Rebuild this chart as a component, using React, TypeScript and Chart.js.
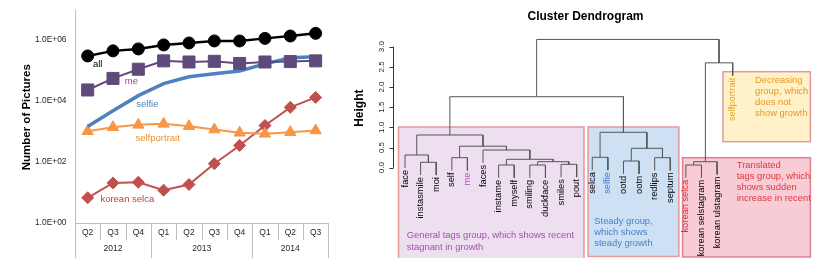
import React, { useEffect, useRef } from "react";
import { Chart, registerables } from "chart.js";

Chart.register(...registerables);

// ---------------- Left chart data ----------------
const quarterLabels = ["Q2", "Q3", "Q4", "Q1", "Q2", "Q3", "Q4", "Q1", "Q2", "Q3"];
const yearLabels = ["2012", "2013", "2014"];
const quartersPerYear = [3, 4, 3];
const seriesNames = ["all", "me", "selfie", "selfportrait", "korean selca"];
const allCounts = [3.0e5, 4.4e5, 5.1e5, 6.9e5, 8.0e5, 9.3e5, 9.3e5, 1.13e6, 1.35e6, 1.65e6];
const meCounts = [2.3e4, 5.5e4, 1.1e5, 2.07e5, 1.9e5, 2.0e5, 1.7e5, 1.9e5, 1.96e5, 2.07e5];
const selfieCounts = [1450, 4800, 1.5e4, 3.7e4, 6.2e4, 7.8e4, 9.7e4, 1.65e5, 2.6e5, 2.8e5];
const selfportraitCounts = [1020, 1380, 1650, 1780, 1490, 1160, 906, 840, 950, 1080];
const koreanSelcaCounts = [6.7, 20.6, 21.7, 11.9, 18.3, 88, 349, 1570, 6200, 13100];
const yTickValues = [1, 1e2, 1e4, 1e6];
const yTickLabels = ["1.0E+00", "1.0E+02", "1.0E+04", "1.0E+06"];
const yAxisTitle = "Number of Pictures";

// ---------------- Dendrogram data ----------------
const dendroTitle = "Cluster Dendrogram";
const dendroYTitle = "Height";
const leafLabels = [
  "face", "instasmile", "moi", "self", "me", "faces", "instame", "myself", "smiling",
  "duckface", "smiles", "pout", "selca", "selfie", "ootd", "ootn", "redlips", "septum",
  "korean selca", "korean selstagram", "korean ulstagram", "selfportrait",
];
// hclust-style merges: negative = leaf (1-based), positive = earlier merge (1-based)
const mergeLeft = [-2, -1, -4, -7, -9, -11, 5, 4, -6, 3, 2, -13, -15, -17, 13, 12, -19, 17, 11, 18, 19];
const mergeRight = [-3, 1, -5, -8, -10, -12, 6, 7, 8, 9, 10, -14, -16, -18, 14, 15, -20, -21, 16, -22, 20];
const mergeHeights = [0.134, 0.315, 0.248, 0.067, 0.067, 0.084, 0.149, 0.208, 0.439, 0.533, 0.811, 0.258, 0.166, 0.248, 0.481, 0.878, 0.067, 0.149, 1.76, 2.6, 3.18];
const heightTicks = [0, 0.5, 1, 1.5, 2, 2.5, 3];
const heightTickLabels = ["0.0", "0.5", "1.0", "1.5", "2.0", "2.5", "3.0"];
const groupTexts = [
  ["General tags group, which shows recent", "stagnant in growth"],
  ["Steady group,", "which shows", "steady growth"],
  ["Decreasing", "group, which", "does not", "show growth"],
  ["Translated", "tags group, which", "shows sudden", "increase in recent"],
];

// ---------------- styles ----------------
const FONT = '"Liberation Sans", Arial, Helvetica, sans-serif';
const seriesColors = ["#000000", "#604a7b", "#4f81bd", "#f79646", "#c0504d"];
const seriesLabelColors = ["#000000", "#a040a8", "#4a7ebb", "#e8902e", "#c8403d"];
const seriesLabelAnchors = [
  { index: 0, dx: 10, dy: 8 },
  { index: 2, dx: -7, dy: 12 },
  { index: 2, dx: 9, dy: 9 },
  { index: 3, dx: -6, dy: 15 },
  { index: 2, dx: -11, dy: 17 },
];
const leafColorMap: Record<string, string> = {
  me: "#b050b8",
  selfie: "#3f7fcf",
  "korean selca": "#e03030",
  selfportrait: "#e8a030",
};
// boxes in (leaf units, height units)
const groupBoxes = [
  { x0: 0.584, x1: 12.47, y0: 1.009, y1: -2.3, fill: "#eedff0", stroke: "#e29a9e", text: "#a150ad", tx: 1.11, ty: -1.686 },
  { x0: 12.73, x1: 18.55, y0: 1.009, y1: -2.2, fill: "#cde0f4", stroke: "#e29a9e", text: "#4a80c8", tx: 13.13, ty: -1.322 },
  { x0: 21.38, x1: 26.98, y0: 2.38, y1: 0.645, fill: "#fff2c8", stroke: "#e29a9e", text: "#e8961e", tx: 23.43, ty: 2.175 },
  { x0: 18.79, x1: 26.98, y0: 0.248, y1: -2.214, fill: "#f7ccd6", stroke: "#e0808c", text: "#e03838", tx: 22.26, ty: 0.067 },
];

function crisp(v: number) {
  return Math.round(v) + 0.5;
}

const leftPlugin = {
  id: "leftDecor",
  beforeDatasetsDraw(chart: any) {
    const { ctx, chartArea: a, scales } = chart;
    const x = scales.x;
    const y = scales.y;
    ctx.save();
    ctx.strokeStyle = "#bfbfbf";
    ctx.lineWidth = 1;
    ctx.beginPath();
    ctx.moveTo(crisp(a.left), a.top);
    ctx.lineTo(crisp(a.left), a.bottom);
    ctx.moveTo(a.left, crisp(a.bottom));
    ctx.lineTo(a.right, crisp(a.bottom));
    // separators
    const half = (x.getPixelForValue(1) - x.getPixelForValue(0)) / 2;
    const boundaries = new Set<number>();
    let acc = 0;
    boundaries.add(0);
    quartersPerYear.forEach((q) => {
      acc += q;
      boundaries.add(acc);
    });
    for (let i = 0; i <= quarterLabels.length; i++) {
      const px = i < quarterLabels.length ? x.getPixelForValue(i) - half : x.getPixelForValue(i - 1) + half;
      const len = boundaries.has(i) ? 36 : 17;
      ctx.moveTo(crisp(px), a.bottom);
      ctx.lineTo(crisp(px), a.bottom + len);
    }
    ctx.stroke();

    // y ticks
    ctx.fillStyle = "#262626";
    ctx.font = `8.4px ${FONT}`;
    ctx.textAlign = "right";
    ctx.textBaseline = "middle";
    yTickValues.forEach((v, i) => {
      ctx.fillText(yTickLabels[i], a.left - 8.5, y.getPixelForValue(v));
    });
    // quarter labels
    ctx.font = `8.5px ${FONT}`;
    ctx.textAlign = "center";
    quarterLabels.forEach((q, i) => {
      ctx.fillText(q, x.getPixelForValue(i), a.bottom + 10);
    });
    // year labels
    let start = 0;
    quartersPerYear.forEach((q, k) => {
      const l = x.getPixelForValue(start) - half;
      const r = x.getPixelForValue(start + q - 1) + half;
      ctx.fillText(yearLabels[k], (l + r) / 2, a.bottom + 26);
      start += q;
    });
    // y title
    ctx.save();
    ctx.translate(27, (a.top + a.bottom) / 2 + 1);
    ctx.rotate(-Math.PI / 2);
    ctx.font = `bold 11.5px ${FONT}`;
    ctx.fillStyle = "#000";
    ctx.fillText(yAxisTitle, 0, 0);
    ctx.restore();
    ctx.restore();
  },
  afterDatasetsDraw(chart: any) {
    const { ctx } = chart;
    ctx.save();
    ctx.font = `9.5px ${FONT}`;
    ctx.textAlign = "center";
    ctx.textBaseline = "middle";
    seriesNames.forEach((name, s) => {
      const meta = chart.getDatasetMeta(s);
      const anc = seriesLabelAnchors[s];
      const pt = meta.data[anc.index];
      ctx.fillStyle = seriesLabelColors[s];
      ctx.fillText(name, pt.x + anc.dx, pt.y + anc.dy);
    });
    ctx.restore();
  },
};

function buildTree() {
  const maxH = Math.max(...mergeHeights);
  const hang = 0.1 * maxH;
  const nodeX: number[] = [];
  const leafEnd: number[] = new Array(leafLabels.length).fill(0);
  const segs: { x: number; y: number }[][] = [];
  for (let i = 0; i < mergeHeights.length; i++) {
    const h = mergeHeights[i];
    const child = (id: number) => {
      if (id < 0) {
        leafEnd[-id - 1] = h - hang;
        return { x: -id, y: h - hang };
      }
      return { x: nodeX[id - 1], y: mergeHeights[id - 1] };
    };
    const a = child(mergeLeft[i]);
    const b = child(mergeRight[i]);
    nodeX[i] = (a.x + b.x) / 2;
    segs.push([
      { x: a.x, y: a.y },
      { x: a.x, y: h },
      { x: b.x, y: h },
      { x: b.x, y: b.y },
    ]);
  }
  return { segs, leafEnd };
}

const tree = buildTree();

const rightPlugin = {
  id: "dendroDecor",
  beforeDatasetsDraw(chart: any) {
    const { ctx, chartArea: a, scales } = chart;
    const x = scales.x;
    const y = scales.y;
    ctx.save();
    // boxes
    groupBoxes.forEach((b) => {
      const l = x.getPixelForValue(b.x0);
      const r = x.getPixelForValue(b.x1);
      const t = y.getPixelForValue(b.y0);
      const bt = y.getPixelForValue(b.y1);
      ctx.fillStyle = b.fill;
      ctx.fillRect(l, t, r - l, bt - t);
      ctx.strokeStyle = b.stroke;
      ctx.lineWidth = 1.5;
      ctx.strokeRect(l, t, r - l, bt - t);
    });
    // axis
    const ax = crisp(a.left);
    ctx.strokeStyle = "#333";
    ctx.lineWidth = 1;
    ctx.beginPath();
    ctx.moveTo(ax, y.getPixelForValue(heightTicks[0]));
    ctx.lineTo(ax, y.getPixelForValue(heightTicks[heightTicks.length - 1]));
    heightTicks.forEach((v) => {
      const py = crisp(y.getPixelForValue(v));
      ctx.moveTo(ax, py);
      ctx.lineTo(ax - 4, py);
    });
    ctx.stroke();
    ctx.fillStyle = "#222";
    ctx.font = `8px ${FONT}`;
    ctx.textAlign = "center";
    ctx.textBaseline = "middle";
    heightTicks.forEach((v, i) => {
      ctx.save();
      ctx.translate(a.left - 11.5, y.getPixelForValue(v));
      ctx.rotate(-Math.PI / 2);
      ctx.fillText(heightTickLabels[i], 0, 0);
      ctx.restore();
    });
    // titles
    ctx.fillStyle = "#000";
    ctx.font = `bold 12px ${FONT}`;
    ctx.fillText(dendroTitle, chart.width / 2, 17);
    ctx.save();
    ctx.translate(20, (y.getPixelForValue(0) + y.getPixelForValue(3)) / 2 + 1);
    ctx.rotate(-Math.PI / 2);
    ctx.fillText(dendroYTitle, 0, 0);
    ctx.restore();
    ctx.restore();
  },
  afterDatasetsDraw(chart: any) {
    const { ctx, scales } = chart;
    const x = scales.x;
    const y = scales.y;
    ctx.save();
    ctx.font = `9.3px ${FONT}`;
    ctx.textAlign = "right";
    ctx.textBaseline = "middle";
    leafLabels.forEach((lab, i) => {
      ctx.save();
      ctx.translate(x.getPixelForValue(i + 1), y.getPixelForValue(tree.leafEnd[i]) + 2);
      ctx.rotate(-Math.PI / 2);
      ctx.fillStyle = leafColorMap[lab] || "#000";
      ctx.fillText(lab, 0, 0);
      ctx.restore();
    });
    ctx.font = `9.4px ${FONT}`;
    ctx.textAlign = "left";
    groupBoxes.forEach((b, k) => {
      ctx.fillStyle = b.text;
      const tx = x.getPixelForValue(b.tx);
      const ty = y.getPixelForValue(b.ty);
      groupTexts[k].forEach((line, j) => {
        ctx.fillText(line, tx, ty + j * 11.3);
      });
    });
    ctx.restore();
  },
};

export default function App() {
  const leftRef = useRef<HTMLCanvasElement | null>(null);
  const rightRef = useRef<HTMLCanvasElement | null>(null);

  useEffect(() => {
    const markerStyles = ["circle", "rect", false, "triangle", "rectRot"];
    const markerRadius = [6, 8.5, 0, 6.5, 6];
    const lineWidths = [2.5, 2, 3.5, 2, 2];
    const seriesData = [allCounts, meCounts, selfieCounts, selfportraitCounts, koreanSelcaCounts];
    const left = new Chart(leftRef.current as HTMLCanvasElement, {
      type: "line",
      data: {
        labels: quarterLabels,
        datasets: seriesNames.map((name, s) => ({
          label: name,
          data: seriesData[s],
          borderColor: seriesColors[s],
          backgroundColor: seriesColors[s],
          borderWidth: lineWidths[s],
          pointStyle: markerStyles[s] as any,
          pointRadius: markerRadius[s],
          pointBorderWidth: 1,
          pointBorderColor: seriesColors[s],
          pointBackgroundColor: seriesColors[s],
          tension: 0,
          clip: false as any,
        })),
      },
      options: {
        animation: false,
        responsive: false,
        maintainAspectRatio: false,
        layout: { padding: { left: 75, right: 11.7, top: 8.3, bottom: 35 } },
        scales: {
          x: { type: "category", display: false, offset: true },
          y: { type: "logarithmic", display: false, min: 1, max: 1e7 },
        },
        plugins: { legend: { display: false }, tooltip: { enabled: false } },
      },
      plugins: [leftPlugin],
    });

    const right = new Chart(rightRef.current as HTMLCanvasElement, {
      type: "scatter",
      data: {
        datasets: tree.segs.map((seg, i) => ({
          label: "m" + i,
          data: seg,
          showLine: true,
          borderColor: "#555555",
          backgroundColor: "#555555",
          borderWidth: 1,
          pointRadius: 0,
          tension: 0,
          clip: false as any,
        })),
      },
      options: {
        animation: false,
        responsive: false,
        maintainAspectRatio: false,
        layout: { padding: { left: 53.3, right: 86.6, top: 46.7, bottom: 90.3 } },
        scales: {
          x: { type: "linear", display: false, min: 0.25, max: 22.75 },
          y: { type: "linear", display: false, min: 0, max: 3 },
        },
        plugins: { legend: { display: false }, tooltip: { enabled: false } },
      },
      plugins: [rightPlugin],
    });

    return () => {
      left.destroy();
      right.destroy();
    };
  }, []);

  return (
    <div style={{ position: "absolute", left: 0, top: 0, width: 831, height: 258, background: "#fff", overflow: "hidden" }}>
      <canvas ref={leftRef} width={340} height={258} style={{ position: "absolute", left: 0, top: 0, width: 340, height: 258 }} />
      <canvas ref={rightRef} width={491} height={258} style={{ position: "absolute", left: 340, top: 0, width: 491, height: 258 }} />
    </div>
  );
}
